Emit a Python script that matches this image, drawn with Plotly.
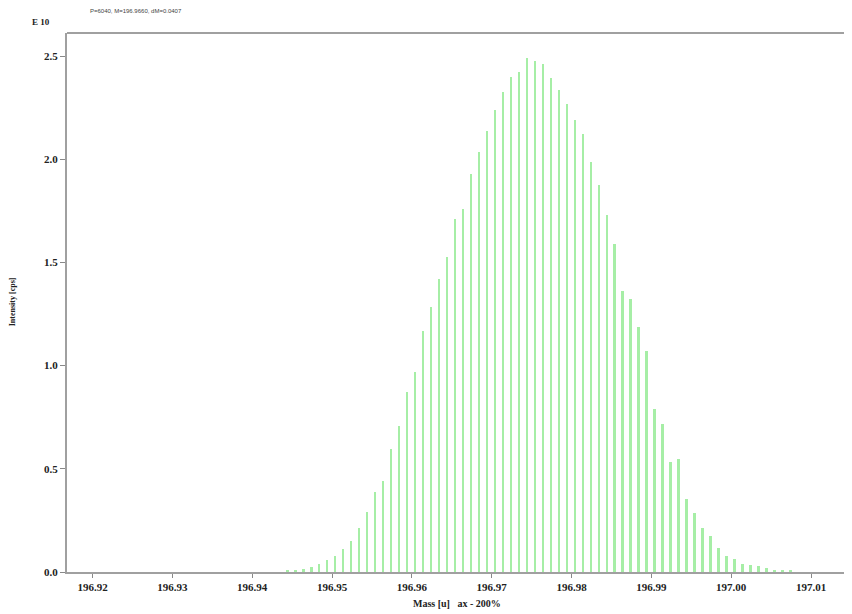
import plotly.graph_objects as go

# Peak masses (u)
mass = [196.9444, 196.9454, 196.9464, 196.9474, 196.9484, 196.9494, 196.9504, 196.9514,
        196.9524, 196.9534, 196.9544, 196.9554, 196.9564, 196.9574, 196.9584, 196.9594,
        196.9604, 196.9614, 196.9624, 196.9634, 196.9644, 196.9654, 196.9664, 196.9674,
        196.9684, 196.9694, 196.9704, 196.9714, 196.9724, 196.9734, 196.9744, 196.9754,
        196.9764, 196.9774, 196.9784, 196.9794, 196.9804, 196.9814, 196.9824, 196.9834,
        196.9844, 196.9854, 196.9864, 196.9874, 196.9884, 196.9894, 196.9904, 196.9914,
        196.9924, 196.9934, 196.9944, 196.9954, 196.9964, 196.9974, 196.9984, 196.9994,
        197.0004, 197.0014, 197.0024, 197.0034, 197.0044, 197.0054, 197.0064, 197.0074]

# Intensities in units of 1e10
intensity = [0.005, 0.008, 0.013, 0.022, 0.038, 0.056, 0.077, 0.113,
             0.148, 0.215, 0.289, 0.390, 0.441, 0.598, 0.709, 0.870,
             0.967, 1.170, 1.283, 1.421, 1.526, 1.712, 1.761, 1.931,
             2.035, 2.137, 2.238, 2.327, 2.400, 2.424, 2.489, 2.477,
             2.464, 2.392, 2.338, 2.270, 2.189, 2.125, 1.987, 1.874,
             1.728, 1.591, 1.364, 1.324, 1.186, 1.073, 0.790, 0.717,
             0.531, 0.547, 0.353, 0.288, 0.215, 0.175, 0.118, 0.078,
             0.062, 0.037, 0.034, 0.029, 0.021, 0.012, 0.008, 0.005]

x_ticks = [196.92, 196.93, 196.94, 196.95, 196.96, 196.97, 196.98, 196.99, 197.00, 197.01]
x_tick_text = ["196.92", "196.93", "196.94", "196.95", "196.96", "196.97", "196.98",
               "196.99", "197.00", "197.01"]
y_ticks = [0.0, 0.5, 1.0, 1.5, 2.0, 2.5]
y_tick_text = ["0.0", "0.5", "1.0", "1.5", "2.0", "2.5"]

header = "P=6040, M=196.9660, dM=0.0407"

fig = go.Figure()
fig.add_trace(go.Bar(x=mass, y=intensity, width=0.00030,
                     marker=dict(color="#a6eea6", line=dict(width=0))))

tickfont = dict(family="Liberation Serif", size=11, color="#222222", weight="bold")
fig.update_layout(
    width=844, height=606,
    margin=dict(l=59, r=1, t=25, b=42),
    paper_bgcolor="white", plot_bgcolor="white",
    showlegend=False, bargap=0,
    xaxis=dict(range=[196.9168, 197.0150], tickvals=x_ticks, ticktext=x_tick_text,
               ticks="outside", ticklen=4, tickcolor="#888888", tickwidth=1,
               showline=True, linecolor="#a0a0a0", linewidth=2,
               showgrid=False, zeroline=False, tickfont=tickfont),
    yaxis=dict(range=[0, 2.612], tickvals=y_ticks, ticktext=y_tick_text,
               ticks="outside", ticklen=5, tickcolor="#888888", tickwidth=1,
               showline=True, linecolor="#a0a0a0", linewidth=2,
               showgrid=False, zeroline=False, tickfont=tickfont),
)

fig.add_shape(type="line", xref="paper", yref="paper", x0=0, x1=1, y0=1, y1=1,
              line=dict(color="#a0a0a0", width=2))

# plot area is 784 x 539 px
fig.add_annotation(text=header, xref="paper", yref="paper", x=0.0268, y=1.040,
                   xanchor="left", yanchor="middle", showarrow=False,
                   font=dict(family="Liberation Sans", size=6, color="#444444"))
fig.add_annotation(text="E 10", xref="paper", yref="paper", x=-0.047, y=1.020,
                   xanchor="left", yanchor="middle", showarrow=False,
                   font=dict(family="Liberation Serif", size=9, color="#222222", weight="bold"))
fig.add_annotation(text="A", xref="paper", yref="paper", x=0.9925, y=1.030,
                   xanchor="left", yanchor="middle", showarrow=False,
                   font=dict(family="Liberation Sans", size=9, color="#222222", weight="bold"))
fig.add_annotation(text="Intensity [cps]", xref="paper", yref="paper", x=-0.0685, y=0.501,
                   xanchor="center", yanchor="middle", showarrow=False, textangle=-90,
                   font=dict(family="Liberation Serif", size=8, color="#222222", weight="bold"))
fig.add_annotation(text="Mass [u]   ax - 200%", xref="paper", yref="paper", x=0.497, y=-0.059,
                   xanchor="center", yanchor="middle", showarrow=False,
                   font=dict(family="Liberation Serif", size=10, color="#222222", weight="bold"))

fig.write_html("out.html")
